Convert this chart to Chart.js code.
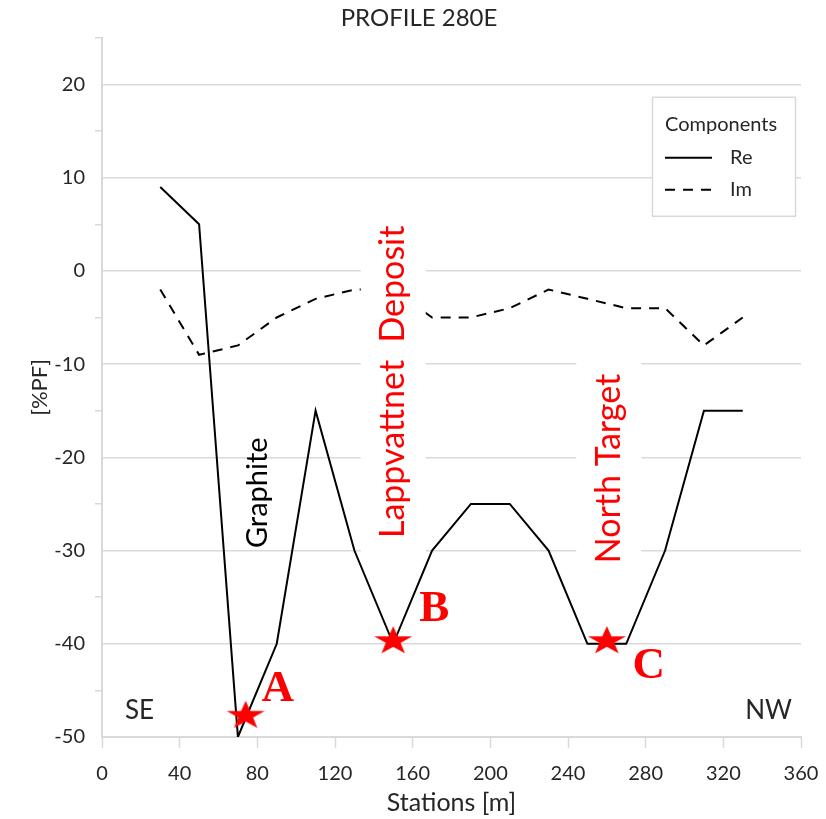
<!DOCTYPE html>
<html>
<head>
<meta charset="utf-8">
<title>Profile 280E</title>
<script src="https://cdn.jsdelivr.net/npm/chart.js@4.4.0/dist/chart.umd.min.js"></script>
<style>
  html, body { margin: 0; padding: 0; background: #fff; }
  #wrap { width: 826px; height: 819px; position: relative; }
</style>
</head>
<body>
<div id="wrap"><canvas id="profileChart"></canvas></div>
<script>
// ========================================
// Profile 280E - %PF components along stations
// ========================================

// Stations along the profile [m]
const stations = [30, 50, 70, 90, 110, 130, 150, 170, 190, 210, 230, 250, 270, 290, 310, 330];

// Real component [%PF]
const reValues = [9, 5, -50, -40, -15, -30, -40, -30, -25, -25, -30, -40, -40, -30, -15, -15];

// Imaginary component [%PF]
const imValues = [-2, -9, -8, -5, -3, -2, -2, -5, -5, -4, -2, -3, -4, -4, -8, -5];

// Targets marked with stars
const targetNames = ['A', 'B', 'C'];
const targetStations = [74, 150, 260];
const targetValues = [-47.5, -39.5, -39.5];

// Axis ticks
const xTickValues = [0, 40, 80, 120, 160, 200, 240, 280, 320, 360];
const yTickValues = [-50, -40, -30, -20, -10, 0, 10, 20];

const FONT = 'Lato, "Open Sans", sans-serif';
const GRID = '#d9d9d9';
const TEXT = '#262626';
const RED = '#ff0000';

// Filled, slightly flattened five point star used as point style
function makeStar() {
  const c = document.createElement('canvas');
  c.width = 44;
  c.height = 36;
  const g = c.getContext('2d');
  const R = 20, r = 7.8, sy = 0.75;
  const cx = 22, cy = 20;
  g.beginPath();
  for (let i = 0; i < 10; i++) {
    const rad = i % 2 === 0 ? R : r;
    const a = -Math.PI / 2 + i * Math.PI / 5;
    const px = cx + rad * Math.cos(a);
    const py = cy + rad * Math.sin(a) * sy;
    if (i === 0) g.moveTo(px, py); else g.lineTo(px, py);
  }
  g.closePath();
  g.fillStyle = RED;
  g.fill();
  return c;
}

// White-backed vertical labels drawn over the Im line, under Re and the stars
const notesPlugin = {
  id: 'profileNotes',
  afterDatasetDraw(chart, args) {
    if (args.index !== 2) return;
    const { ctx, scales: { x, y } } = chart;

    const notes = [
      { text: 'Lappvattnet  Deposit', sx: 150, v: -11.9, size: 34, color: RED, box: true },
      { text: 'North Target', sx: 261, v: -21.2, size: 34, color: RED, box: true },
      { text: 'Graphite', sx: 80, v: -23.8, size: 29, color: '#000', box: false }
    ];

    notes.forEach(n => {
      const px = x.getPixelForValue(n.sx);
      const py = y.getPixelForValue(n.v);
      ctx.save();
      ctx.translate(px, py);
      ctx.rotate(-Math.PI / 2);
      ctx.font = `${n.size}px ${FONT}`;
      const w = ctx.measureText(n.text).width;
      if (n.box) {
        ctx.fillStyle = '#fff';
        ctx.fillRect(-w / 2 - 20, -32.5, w + 40, 65);
      }
      ctx.fillStyle = n.color;
      ctx.textAlign = 'center';
      ctx.textBaseline = 'middle';
      ctx.fillText(n.text, 0, 0);
      ctx.restore();
    });
  }
};

// Letters next to stars, direction labels and the boxed legend
const overlayPlugin = {
  id: 'profileOverlay',
  afterDraw(chart) {
    const { ctx, chartArea } = chart;
    const starMeta = chart.getDatasetMeta(0);
    const offsets = [[32, -26], [41, -32], [42, 25]];

    ctx.save();
    ctx.font = `bold 45px "Liberation Serif", "Times New Roman", serif`;
    ctx.fillStyle = RED;
    ctx.textAlign = 'center';
    ctx.textBaseline = 'middle';
    starMeta.data.forEach((pt, i) => {
      ctx.fillText(targetNames[i], pt.x + offsets[i][0], pt.y + offsets[i][1] + 2);
    });

    // SE / NW
    ctx.font = `26px ${FONT}`;
    ctx.fillStyle = TEXT;
    ctx.textAlign = 'left';
    ctx.fillText('SE', chartArea.left + 23, chartArea.bottom - 26);
    ctx.textAlign = 'right';
    ctx.fillText('NW', chartArea.right - 9, chartArea.bottom - 26);

    // Legend box
    const lx = chartArea.right - 149, ly = chartArea.top + 59, lw = 143, lh = 119;
    ctx.fillStyle = '#fff';
    ctx.fillRect(lx, ly, lw, lh);
    ctx.strokeStyle = GRID;
    ctx.lineWidth = 1.5;
    ctx.strokeRect(lx + 0.5, ly + 0.5, lw, lh);

    ctx.fillStyle = TEXT;
    ctx.textAlign = 'left';
    ctx.font = `20px ${FONT}`;
    ctx.fillText('Components', lx + 13, ly + 28);

    ctx.strokeStyle = '#000';
    ctx.lineWidth = 2;
    ctx.beginPath();
    ctx.moveTo(lx + 13, ly + 61);
    ctx.lineTo(lx + 60, ly + 61);
    ctx.stroke();
    ctx.fillText('Re', lx + 78, ly + 61);

    ctx.setLineDash([10, 8]);
    ctx.beginPath();
    ctx.moveTo(lx + 13, ly + 93);
    ctx.lineTo(lx + 60, ly + 93);
    ctx.stroke();
    ctx.setLineDash([]);
    ctx.fillText('Im', lx + 78, ly + 93);
    ctx.restore();
  }
};

const ctx = document.getElementById('profileChart');

new Chart(ctx, {
  type: 'line',
  data: {
    datasets: [
      {
        label: 'Targets',
        type: 'scatter',
        data: targetStations.map((s, i) => ({ x: s, y: targetValues[i] })),
        pointStyle: makeStar(),
        pointRadius: 10,
        showLine: false
      },
      {
        label: 'Re',
        data: stations.map((s, i) => ({ x: s, y: reValues[i] })),
        borderColor: '#000',
        borderWidth: 2,
        pointRadius: 0,
        tension: 0,
        fill: false
      },
      {
        label: 'Im',
        data: stations.map((s, i) => ({ x: s, y: imValues[i] })),
        borderColor: '#000',
        borderWidth: 2,
        borderDash: [10, 8],
        pointRadius: 0,
        tension: 0,
        fill: false
      }
    ]
  },
  options: {
    responsive: true,
    maintainAspectRatio: false,
    animation: false,
    layout: { padding: { left: 37, right: 25, top: 0, bottom: 0 } },
    plugins: {
      legend: { display: false },
      tooltip: { enabled: false },
      title: {
        display: true,
        text: 'PROFILE 280E',
        color: TEXT,
        font: { family: FONT, size: 24, weight: 'normal' },
        padding: { top: 4, bottom: 5 }
      }
    },
    scales: {
      x: {
        type: 'linear',
        min: 0,
        max: 360,
        afterFit: s => {
          s.height = 82;
          s.paddingLeft = 0;
          s.paddingRight = 0;
        },
        afterBuildTicks: s => { s.ticks = xTickValues.map(v => ({ value: v })); },
        grid: { drawOnChartArea: false, tickLength: 11, tickColor: GRID, tickWidth: 1.5 },
        border: { color: GRID, width: 2 },
        ticks: { color: TEXT, font: { family: FONT, size: 20 }, padding: 14, maxRotation: 0 },
        title: {
          display: true,
          text: 'Stations [m]',
          color: TEXT,
          font: { family: FONT, size: 25 },
          padding: { top: 0, bottom: 1 }
        }
      },
      y: {
        type: 'linear',
        min: -50,
        max: 25,
        afterFit: s => { s.width = 65; },
        ticks: {
          stepSize: 5,
          color: TEXT,
          font: { family: FONT, size: 20 },
          padding: 10,
          callback: v => (yTickValues.includes(v) ? v : '')
        },
        grid: {
          tickLength: 7,
          lineWidth: 1.5,
          color: c => (c.tick && yTickValues.includes(c.tick.value) && c.tick.value !== -50 ? GRID : 'rgba(0,0,0,0)'),
          tickColor: c => (c.tick && c.tick.value % 10 !== 0 ? GRID : 'rgba(0,0,0,0)')
        },
        border: { color: GRID, width: 2 },
        title: {
          display: true,
          text: '[%PF]',
          color: TEXT,
          font: { family: FONT, size: 22 },
          padding: { top: -10, bottom: 0 }
        }
      }
    }
  },
  plugins: [notesPlugin, overlayPlugin]
});
</script>
</body>
</html>
